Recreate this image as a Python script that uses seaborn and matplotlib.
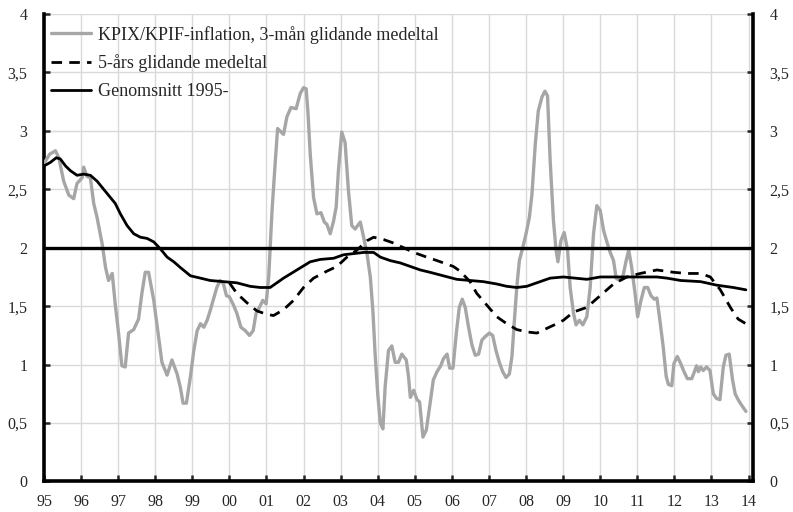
import matplotlib
matplotlib.use("Agg")
import matplotlib.pyplot as plt
import seaborn as sns

# KPIX/KPIF-inflation, 3-month moving average (decimal year, percent)
kpi_years = [
    1995.00, 1995.15, 1995.31, 1995.40, 1995.53, 1995.67, 1995.80, 1995.89, 1996.03, 1996.07,
    1996.16, 1996.25, 1996.34, 1996.43, 1996.57, 1996.66, 1996.74, 1996.84, 1996.92, 1997.01,
    1997.10, 1997.19, 1997.28, 1997.42, 1997.55, 1997.64, 1997.73, 1997.82, 1997.96, 1998.09,
    1998.18, 1998.32, 1998.45, 1998.59, 1998.68, 1998.75, 1998.84, 1998.95, 1999.04, 1999.13,
    1999.22, 1999.31, 1999.40, 1999.48, 1999.57, 1999.66, 1999.75, 1999.84, 1999.92, 2000.00,
    2000.11, 2000.20, 2000.31, 2000.43, 2000.54, 2000.64, 2000.72, 2000.81, 2000.90, 2000.99,
    2001.06, 2001.15, 2001.24, 2001.30, 2001.46, 2001.55, 2001.66, 2001.80, 2001.91, 2002.00,
    2002.07, 2002.12, 2002.18, 2002.27, 2002.36, 2002.47, 2002.56, 2002.63, 2002.72, 2002.81,
    2002.88, 2002.94, 2003.03, 2003.12, 2003.21, 2003.30, 2003.39, 2003.53, 2003.62, 2003.71,
    2003.80, 2003.87, 2003.93, 2004.00, 2004.07, 2004.14, 2004.20, 2004.29, 2004.38, 2004.47,
    2004.56, 2004.65, 2004.77, 2004.83, 2004.88, 2004.97, 2005.06, 2005.13, 2005.22, 2005.31,
    2005.40, 2005.50, 2005.60, 2005.70, 2005.77, 2005.87, 2005.94, 2006.03, 2006.12, 2006.20,
    2006.28, 2006.36, 2006.45, 2006.54, 2006.63, 2006.72, 2006.81, 2006.90, 2007.01, 2007.10,
    2007.19, 2007.28, 2007.37, 2007.46, 2007.55, 2007.62, 2007.68, 2007.75, 2007.82, 2007.91,
    2008.00, 2008.09, 2008.16, 2008.25, 2008.33, 2008.43, 2008.51, 2008.58, 2008.65, 2008.74,
    2008.81, 2008.86, 2008.94, 2009.03, 2009.12, 2009.19, 2009.28, 2009.35, 2009.44, 2009.53,
    2009.64, 2009.73, 2009.82, 2009.91, 2010.00, 2010.09, 2010.18, 2010.27, 2010.36, 2010.43,
    2010.52, 2010.61, 2010.70, 2010.77, 2010.85, 2010.94, 2011.01, 2011.10, 2011.19, 2011.28,
    2011.37, 2011.46, 2011.53, 2011.61, 2011.70, 2011.78, 2011.84, 2011.93, 2011.99, 2012.08,
    2012.17, 2012.26, 2012.35, 2012.47, 2012.54, 2012.60, 2012.65, 2012.71, 2012.78, 2012.87,
    2012.96, 2013.05, 2013.14, 2013.23, 2013.32, 2013.39, 2013.48, 2013.57, 2013.64, 2013.72,
    2013.82, 2013.93,
]
kpi_values = [
    2.72, 2.80, 2.83, 2.77, 2.57, 2.45, 2.42, 2.55, 2.60, 2.69,
    2.61, 2.60, 2.38, 2.26, 2.03, 1.83, 1.72, 1.78, 1.52, 1.27,
    0.99, 0.98, 1.27, 1.30, 1.39, 1.61, 1.79, 1.79, 1.55, 1.24,
    1.02, 0.91, 1.04, 0.92, 0.80, 0.67, 0.67, 0.90, 1.12, 1.29,
    1.35, 1.32, 1.38, 1.46, 1.56, 1.66, 1.72, 1.69, 1.59, 1.58,
    1.51, 1.44, 1.32, 1.29, 1.25, 1.29, 1.44, 1.49, 1.55, 1.52,
    1.75, 2.32, 2.75, 3.02, 2.97, 3.12, 3.20, 3.19, 3.32, 3.37,
    3.36, 3.15, 2.80, 2.43, 2.29, 2.30, 2.22, 2.20, 2.12, 2.23,
    2.35, 2.66, 2.99, 2.90, 2.49, 2.19, 2.16, 2.22, 2.09, 1.95,
    1.75, 1.46, 1.09, 0.75, 0.50, 0.45, 0.81, 1.12, 1.16, 1.02,
    1.02, 1.09, 1.04, 0.90, 0.72, 0.78, 0.70, 0.68, 0.38, 0.44,
    0.64, 0.87, 0.94, 0.99, 1.05, 1.09, 0.97, 0.97, 1.27, 1.49,
    1.56, 1.49, 1.32, 1.17, 1.08, 1.09, 1.21, 1.24, 1.27, 1.25,
    1.12, 1.02, 0.94, 0.89, 0.92, 1.07, 1.35, 1.66, 1.89, 2.00,
    2.12, 2.26, 2.46, 2.89, 3.17, 3.29, 3.34, 3.30, 2.75, 2.23,
    1.98, 1.88, 2.06, 2.13, 1.98, 1.66, 1.44, 1.34, 1.38, 1.34,
    1.41, 1.66, 2.12, 2.36, 2.32, 2.15, 2.05, 1.96, 1.89, 1.74,
    1.72, 1.75, 1.89, 1.98, 1.83, 1.61, 1.41, 1.55, 1.66, 1.66,
    1.59, 1.56, 1.57, 1.38, 1.15, 0.90, 0.83, 0.82, 1.01, 1.07,
    1.01, 0.94, 0.88, 0.88, 0.94, 0.99, 0.94, 0.98, 0.95, 0.98,
    0.95, 0.75, 0.71, 0.70, 0.98, 1.08, 1.09, 0.87, 0.75, 0.70,
    0.65, 0.60,
]

# 5-year moving average
ma_years = [
    2000.00, 2000.20, 2000.47, 2000.74, 2001.01, 2001.19, 2001.46, 2001.73, 2002.00, 2002.27,
    2002.63, 2002.90, 2003.17, 2003.44, 2003.71, 2003.89, 2004.16, 2004.43, 2004.70, 2004.97,
    2005.32, 2005.60, 2006.04, 2006.22, 2006.49, 2006.67, 2006.94, 2007.21, 2007.48, 2007.75,
    2008.02, 2008.29, 2008.56, 2008.83, 2009.01, 2009.28, 2009.64, 2010.00, 2010.36, 2010.72,
    2011.08, 2011.53, 2011.98, 2012.34, 2012.71, 2012.97, 2013.24, 2013.51, 2013.72, 2013.93,
]
ma_values = [
    1.70, 1.61, 1.53, 1.46, 1.43, 1.42, 1.47, 1.55, 1.66, 1.74,
    1.80, 1.84, 1.92, 1.98, 2.06, 2.09, 2.07, 2.04, 2.00, 1.96,
    1.92, 1.89, 1.84, 1.80, 1.71, 1.61, 1.51, 1.41, 1.35, 1.30,
    1.28, 1.27, 1.31, 1.35, 1.38, 1.45, 1.49, 1.59, 1.69, 1.75,
    1.78, 1.81, 1.79, 1.78, 1.78, 1.75, 1.64, 1.49, 1.39, 1.35,
]

# Average since 1995
avg_years = [
    1995.00, 1995.17, 1995.33, 1995.44, 1995.58, 1995.71, 1995.89, 1996.07, 1996.25, 1996.43,
    1996.61, 1996.79, 1996.92, 1997.06, 1997.24, 1997.42, 1997.60, 1997.78, 1997.96, 1998.14,
    1998.32, 1998.50, 1998.68, 1998.95, 1999.22, 1999.48, 1999.84, 2000.20, 2000.56, 2000.83,
    2001.10, 2001.46, 2001.82, 2002.18, 2002.45, 2002.81, 2003.08, 2003.35, 2003.62, 2003.89,
    2004.07, 2004.34, 2004.61, 2004.88, 2005.15, 2005.41, 2005.77, 2006.13, 2006.49, 2006.85,
    2007.21, 2007.48, 2007.75, 2008.02, 2008.29, 2008.65, 2009.01, 2009.64, 2010.00, 2010.72,
    2011.53, 2011.80, 2012.17, 2012.71, 2013.14, 2013.59, 2013.93,
]
avg_values = [
    2.70, 2.73, 2.77, 2.76, 2.70, 2.66, 2.62, 2.63, 2.62, 2.57,
    2.50, 2.43, 2.38, 2.29, 2.19, 2.12, 2.09, 2.08, 2.05, 1.99,
    1.92, 1.88, 1.83, 1.76, 1.74, 1.72, 1.71, 1.70, 1.67, 1.66,
    1.66, 1.74, 1.81, 1.88, 1.90, 1.91, 1.94, 1.95, 1.96, 1.96,
    1.92, 1.89, 1.87, 1.84, 1.81, 1.79, 1.76, 1.73, 1.72, 1.71,
    1.69, 1.67, 1.66, 1.67, 1.70, 1.74, 1.75, 1.73, 1.75, 1.75,
    1.75, 1.74, 1.72, 1.71, 1.68, 1.66, 1.64,
]

target = 2.0
year_ticks = list(range(1995, 2015))
year_labels = [f"{y % 100:02d}" for y in year_ticks]
y_ticks = [0, 0.5, 1, 1.5, 2, 2.5, 3, 3.5, 4]
y_labels = [f"{v:g}".replace(".", ",") for v in y_ticks]

sns.set_style("white")
plt.rcParams["font.family"] = ["Liberation Serif", "DejaVu Serif"]

fig = plt.figure(figsize=(7.93, 5.12), dpi=100)
ax = fig.add_axes([0.0555, 0.0596, 0.894, 0.913])

sns.lineplot(x=kpi_years, y=kpi_values, ax=ax, color="#a6a6a6", linewidth=2.4,
             label="KPIX/KPIF-inflation, 3-mån glidande medeltal", errorbar=None, zorder=3)
sns.lineplot(x=ma_years, y=ma_values, ax=ax, color="black", linewidth=2.0,
             linestyle=(0, (3.8, 2.6)), label="5-års glidande medeltal", errorbar=None, zorder=4)
sns.lineplot(x=avg_years, y=avg_values, ax=ax, color="black", linewidth=2.0,
             label="Genomsnitt 1995-", errorbar=None, zorder=4)
ax.axhline(target, color="black", linewidth=2.4, zorder=4)

ax.set_xlim(1995, 2014.12)
ax.set_ylim(0, 4)
ax.set_xticks(year_ticks)
ax.set_xticklabels(year_labels)
ax.set_yticks(y_ticks)
ax.set_yticklabels(y_labels)
ax.set_xlabel("")
ax.set_ylabel("")

ax.grid(True, color="#d9d9d9", linewidth=1.0, zorder=0)
ax.set_axisbelow(True)

for side in ["left", "right", "bottom"]:
    ax.spines[side].set_visible(True)
    ax.spines[side].set_color("black")
    ax.spines[side].set_linewidth(2.6)
ax.spines["top"].set_visible(False)

ax.tick_params(axis="y", direction="in", length=4, width=1.8, labelsize=11.5,
               left=True, right=True, labelleft=True, labelright=True, pad=12)
ax.tick_params(axis="x", direction="in", length=4, width=1.8, labelsize=11.5,
               bottom=True, pad=9)

leg = ax.legend(loc="upper left", bbox_to_anchor=(0.0, 0.99), frameon=False,
                fontsize=13, handlelength=2.2, handletextpad=0.4, labelspacing=0.59,
                borderaxespad=0)

fig.savefig("out.png", dpi=100)
